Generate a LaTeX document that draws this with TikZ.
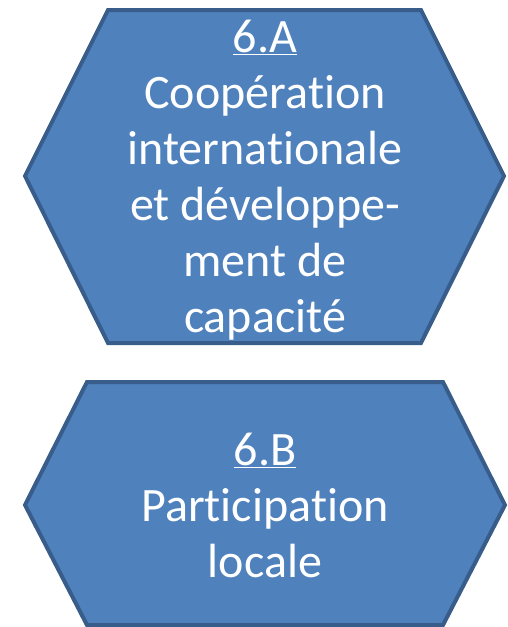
\documentclass[tikz,border=0pt]{standalone}
\usepackage{fontspec}
\setmainfont{Carlito}[Ligatures=NoCommon]
\definecolor{hexfill}{HTML}{4F81BD}
\definecolor{hexline}{HTML}{385D8A}
\begin{document}
\begin{tikzpicture}[x=1pt,y=1pt,line width=4pt,line join=miter,
	hexa/.style={draw=hexline,fill=hexfill},
	txt/.style={white,align=center,font=\fontsize{48}{56}\selectfont}]
	\useasboundingbox (0,0) rectangle (508,-627);
	%	\draw[gray!20] (0,0)grid(508,-627);
	\draw[hexa] (108,-10)--(421,-10)--(504,-176)--(421,-343)--(108,-343)--(25,-176)--cycle
	(87,-382)--(443,-382)--(505,-505)--(443,-625)--(87,-625)--(25,-505)--cycle;
	\path (265,-180)node[txt](a){\underline{6.A}\\Coopération\\internationale\\et développe-\\ment de\\capacité}
	(265,-505)node[txt](b){\underline{6.B}\\Participation\\locale};
\end{tikzpicture}
\end{document}
